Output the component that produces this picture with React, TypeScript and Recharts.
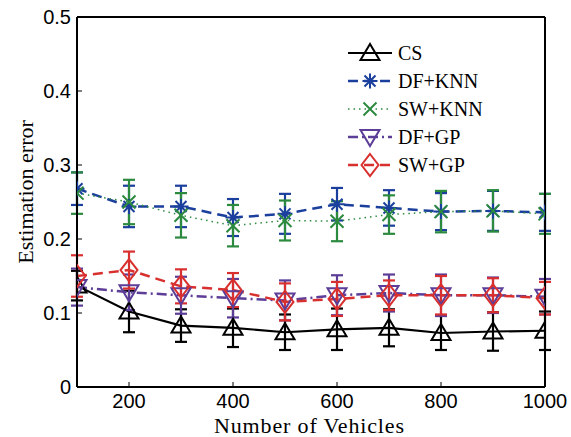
import React from 'react'
import { LineChart, Line, XAxis, YAxis, ErrorBar } from 'recharts'

const vehicles = [100, 200, 300, 400, 500, 600, 700, 800, 900, 1000]

const csMean = [0.137, 0.102, 0.083, 0.080, 0.074, 0.078, 0.080, 0.073, 0.075, 0.076]
const csErr = [0.02, 0.028, 0.022, 0.026, 0.024, 0.028, 0.025, 0.023, 0.026, 0.026]

const dfKnnMean = [0.268, 0.244, 0.244, 0.229, 0.234, 0.247, 0.242, 0.237, 0.238, 0.236]
const dfKnnErr = [0.022, 0.028, 0.028, 0.025, 0.027, 0.022, 0.024, 0.025, 0.027, 0.025]

const swKnnMean = [0.262, 0.25, 0.232, 0.218, 0.225, 0.224, 0.233, 0.237, 0.238, 0.234]
const swKnnErr = [0.028, 0.03, 0.03, 0.028, 0.027, 0.027, 0.026, 0.028, 0.028, 0.027]

const dfGpMean = [0.135, 0.128, 0.124, 0.12, 0.117, 0.124, 0.127, 0.124, 0.124, 0.122]
const dfGpErr = [0.025, 0.024, 0.025, 0.026, 0.027, 0.027, 0.025, 0.028, 0.024, 0.024]

const swGpMean = [0.15, 0.158, 0.136, 0.131, 0.115, 0.119, 0.124, 0.124, 0.124, 0.12]
const swGpErr = [0.028, 0.025, 0.023, 0.023, 0.025, 0.023, 0.02, 0.026, 0.023, 0.022]

const xTicks = [200, 400, 600, 800, 1000]
const yTicks = [0, 0.1, 0.2, 0.3, 0.4, 0.5]

const BLUE = '#1b3f9c'
const GREEN = '#2b8a3e'
const PURPLE = '#5c3d98'
const RED = '#d8302f'

const chartData = vehicles.map((v, i) => ({
  vehicles: v,
  cs: csMean[i],
  csErr: csErr[i],
  dfKnn: dfKnnMean[i],
  dfKnnErr: dfKnnErr[i],
  swKnn: swKnnMean[i],
  swKnnErr: swKnnErr[i],
  dfGp: dfGpMean[i],
  dfGpErr: dfGpErr[i],
  swGp: swGpMean[i],
  swGpErr: swGpErr[i],
}))

type Shape = 'triUp' | 'star' | 'cross' | 'triDown' | 'diamond'

function marker(shape: Shape, cx: number, cy: number, color: string, key?: string) {
  switch (shape) {
    case 'triUp':
      return <path key={key} d={`M${cx},${cy - 9}L${cx - 9.5},${cy + 7}L${cx + 9.5},${cy + 7}Z`} fill="none" stroke={color} strokeWidth={2} />
    case 'triDown':
      return <path key={key} d={`M${cx - 9.5},${cy - 7}L${cx + 9.5},${cy - 7}L${cx},${cy + 9}Z`} fill="none" stroke={color} strokeWidth={2} />
    case 'diamond':
      return <path key={key} d={`M${cx},${cy - 11}L${cx + 8.5},${cy}L${cx},${cy + 11}L${cx - 8.5},${cy}Z`} fill="none" stroke={color} strokeWidth={2} />
    case 'star':
      return (
        <path key={key} d={`M${cx - 7.5},${cy}L${cx + 7.5},${cy}M${cx},${cy - 7.5}L${cx},${cy + 7.5}M${cx - 5.5},${cy - 5.5}L${cx + 5.5},${cy + 5.5}M${cx - 5.5},${cy + 5.5}L${cx + 5.5},${cy - 5.5}`} stroke={color} strokeWidth={2} fill="none" />
      )
    case 'cross':
      return <path key={key} d={`M${cx - 6.5},${cy - 6.5}L${cx + 6.5},${cy + 6.5}M${cx - 6.5},${cy + 6.5}L${cx + 6.5},${cy - 6.5}`} stroke={color} strokeWidth={2} fill="none" />
  }
}

const dotFor = (shape: Shape, color: string) => (props: any) =>
  marker(shape, props.cx, props.cy, color, `${shape}-${props.index}`)

const series = [
  { key: 'cs', name: 'CS', color: '#000000', dash: undefined, width: 2.2, shape: 'triUp' as Shape },
  { key: 'dfKnn', name: 'DF+KNN', color: BLUE, dash: '10 6', width: 2.5, shape: 'star' as Shape },
  { key: 'swKnn', name: 'SW+KNN', color: GREEN, dash: '1.5 4', width: 1.5, shape: 'cross' as Shape },
  { key: 'dfGp', name: 'DF+GP', color: PURPLE, dash: '10 4 2 4', width: 2.5, shape: 'triDown' as Shape },
  { key: 'swGp', name: 'SW+GP', color: RED, dash: '10 6', width: 2.5, shape: 'diamond' as Shape },
]

// legend sits inside the axes box, top right, no frame
function LegendBox() {
  return (
    <div style={{ position: 'absolute', left: 346, top: 39, fontFamily: '"Liberation Serif", serif', fontSize: 20, color: '#000' }}>
      {series.map(s => (
        <div key={s.key} style={{ display: 'flex', alignItems: 'center', height: 28 }}>
          <svg width={48} height={28}>
            <line x1={2} y1={14} x2={46} y2={14} stroke={s.color} strokeWidth={s.width} strokeDasharray={s.dash} />
            {marker(s.shape, 24, 14, s.color)}
          </svg>
          <span style={{ marginLeft: 4 }}>{s.name}</span>
        </div>
      ))}
    </div>
  )
}

const tickStyle = { fontFamily: '"Liberation Sans", Arial, sans-serif', fontSize: 20, fill: '#000' }

export default function App() {
  return (
    <div style={{ position: 'absolute', left: 0, top: 0, width: 571, height: 437, background: '#fff' }}>
      <LineChart width={571} height={437} data={chartData} margin={{ top: 16, right: 25, bottom: 0, left: 0 }}>
        <XAxis
          dataKey="vehicles"
          type="number"
          domain={[100, 1000]}
          ticks={xTicks}
          allowDataOverflow
          height={50}
          tickSize={-5}
          tickMargin={12}
          tick={tickStyle}
          tickLine={{ stroke: '#000', strokeWidth: 1 }}
          axisLine={{ stroke: '#000', strokeWidth: 2 }}
          label={{
            content: () => (
              <text x={309} y={433} textAnchor="middle" fontFamily='"Liberation Serif", serif' fontSize={22} textLength={190} lengthAdjust="spacing">
                Number of Vehicles
              </text>
            ),
          }}
        />
        <XAxis
          xAxisId="top"
          orientation="top"
          dataKey="vehicles"
          type="number"
          domain={[100, 1000]}
          ticks={xTicks}
          height={1}
          tickSize={-5}
          tick={false}
          tickLine={{ stroke: '#000', strokeWidth: 1 }}
          axisLine={{ stroke: '#000', strokeWidth: 2 }}
        />
        <YAxis
          type="number"
          domain={[0, 0.5]}
          ticks={yTicks}
          width={77}
          tickSize={-5}
          tickMargin={11}
          tick={tickStyle}
          tickFormatter={(v: number) => (v === 0 ? '0' : v.toFixed(1))}
          tickLine={{ stroke: '#000', strokeWidth: 1 }}
          axisLine={{ stroke: '#000', strokeWidth: 2 }}
          label={{
            content: () => (
              <text x={33} y={192} textAnchor="middle" transform="rotate(-90 33 192)" fontFamily='"Liberation Serif", serif' fontSize={22}>
                Estimation error
              </text>
            ),
          }}
        />
        <YAxis
          yAxisId="right"
          orientation="right"
          type="number"
          domain={[0, 0.5]}
          ticks={yTicks}
          width={1}
          tickSize={-5}
          tick={false}
          tickLine={{ stroke: '#000', strokeWidth: 1 }}
          axisLine={{ stroke: '#000', strokeWidth: 2 }}
        />
        {series.map(s => (
          <Line
            key={s.key}
            dataKey={s.key}
            name={s.name}
            type="linear"
            stroke={s.color}
            strokeWidth={s.width}
            strokeDasharray={s.dash}
            dot={dotFor(s.shape, s.color)}
            activeDot={false}
            isAnimationActive={false}
          >
            <ErrorBar dataKey={`${s.key}Err`} width={6} stroke={s.color} strokeWidth={2.2} direction="y" />
          </Line>
        ))}
      </LineChart>
      <LegendBox />
    </div>
  )
}
